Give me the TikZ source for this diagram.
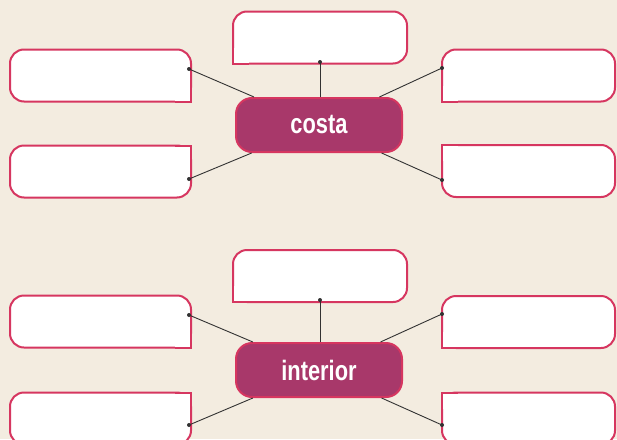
\documentclass[tikz,border=0pt]{standalone}
\usepackage{fontspec}
\usepackage{graphicx}
\setmainfont{Liberation Sans}
\definecolor{bg}{RGB}{243,236,224}
\definecolor{rim}{RGB}{214,54,96}
\definecolor{core}{RGB}{168,56,106}
\definecolor{wire}{RGB}{50,50,50}
\tikzset{
  box/.style={draw=rim, fill=white, line width=2pt, rounded corners=14pt, minimum height=52pt, inner sep=0pt, outer sep=0pt},
  hub/.style={draw=rim, fill=core, line width=2pt, rounded corners=16pt, minimum width=166pt, minimum height=54pt, inner sep=0pt, text=white, font=\fontsize{28}{28}\selectfont\bfseries},
  wirestyle/.style={draw=wire, line width=0.9pt},
  dotstyle/.style={fill=wire, circle, inner sep=0pt, minimum size=4pt},
  rimline/.style={draw=rim, line width=2pt},
}
% #1 node anchor, #2 x sign, #3 y sign (canvas, y up)
\newcommand{\sharpcorner}[3]{%
  \fill[white] (#1) rectangle ([xshift=#2 16pt, yshift=#3 16pt]#1);
  \draw[rimline] ([yshift=#3 16pt]#1) -- (#1) -- ([xshift=#2 16pt]#1);
}
\begin{document}
\begin{tikzpicture}[x=1pt,y=-1pt]
\fill[bg] (0,0) rectangle (617,439);
\useasboundingbox (0,0) rectangle (617,439);

% ---------- group 1 ----------
\node[box, minimum width=174pt] (T1) at (320,37.5) {};
\node[box, minimum width=181pt] (L1) at (100.5,75.5) {};
\node[box, minimum width=181pt] (L2) at (100.5,171.5) {};
\node[box, minimum width=173pt] (R1) at (528.5,75.5) {};
\node[box, minimum width=173pt] (R2) at (528.5,171) {};
\sharpcorner{T1.south west}{+}{+}
\sharpcorner{L1.south east}{-}{+}
\sharpcorner{L2.north east}{-}{-}
\sharpcorner{R1.south west}{+}{+}
\sharpcorner{R2.north west}{+}{-}

\node[hub] (C1) at (319,125) {\scalebox{0.78}[1]{costa}};

\node[dotstyle] (dT1) at (320,62) {};
\node[dotstyle] (dL1) at (189,69) {};
\node[dotstyle] (dL2) at (189,179) {};
\node[dotstyle] (dR1) at (442,68) {};
\node[dotstyle] (dR2) at (442,180) {};

\draw[wirestyle] (dT1.center) -- (dT1.center |- C1.north);
\draw[wirestyle] (dL1.center) -- (C1);
\draw[wirestyle] (dL2.center) -- (C1);
\draw[wirestyle] (dR1.center) -- (C1);
\draw[wirestyle] (dR2.center) -- (C1);

% ---------- group 2 ----------
\node[box, minimum width=174pt] (T2) at (320,276) {};
\node[box, minimum width=181pt] (L3) at (100.5,321.5) {};
\node[box, minimum width=181pt] (L4) at (100.5,418.5) {};
\node[box, minimum width=173pt] (R3) at (528.5,322) {};
\node[box, minimum width=173pt] (R4) at (528.5,418.5) {};
\sharpcorner{T2.south west}{+}{+}
\sharpcorner{L3.south east}{-}{+}
\sharpcorner{L4.north east}{-}{-}
\sharpcorner{R3.south west}{+}{+}
\sharpcorner{R4.north west}{+}{-}

\node[hub] (C2) at (319,370) {\scalebox{0.78}[1]{interior}};

\node[dotstyle] (dT2) at (320,300) {};
\node[dotstyle] (dL3) at (189,315) {};
\node[dotstyle] (dL4) at (189,425) {};
\node[dotstyle] (dR3) at (442,314) {};
\node[dotstyle] (dR4) at (442,425) {};

\draw[wirestyle] (dT2.center) -- (dT2.center |- C2.north);
\draw[wirestyle] (dL3.center) -- (C2);
\draw[wirestyle] (dL4.center) -- (C2);
\draw[wirestyle] (dR3.center) -- (C2);
\draw[wirestyle] (dR4.center) -- (C2);
\end{tikzpicture}
\end{document}
